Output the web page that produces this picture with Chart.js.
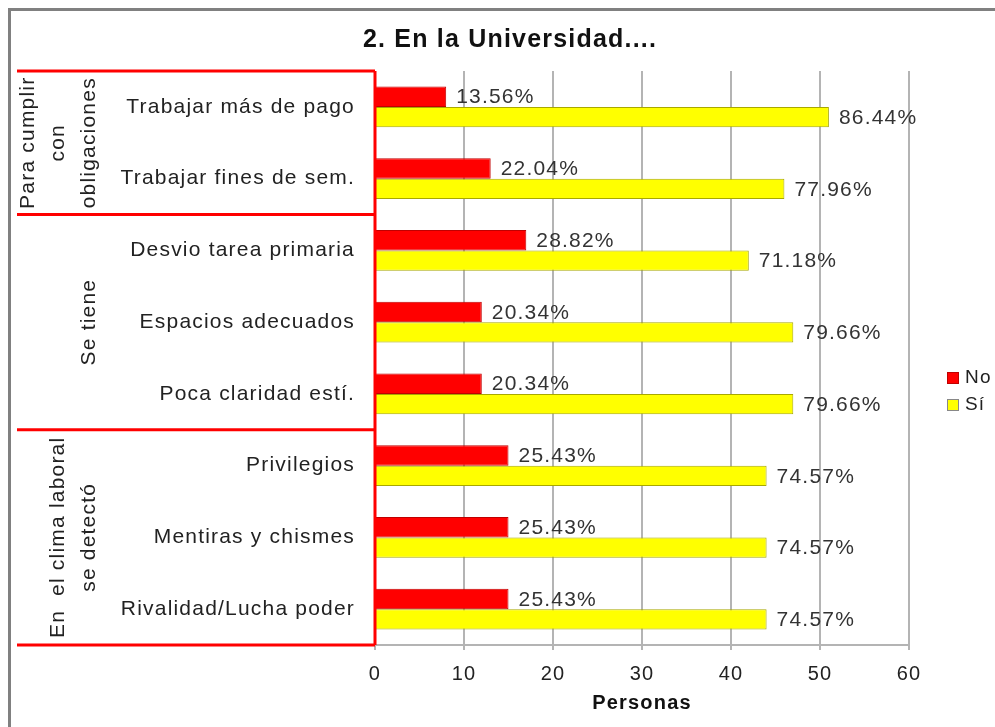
<!DOCTYPE html>
<html>
<head>
<meta charset="utf-8">
<script src="https://cdn.jsdelivr.net/npm/chart.js@4.4.0/dist/chart.umd.min.js"></script>
<style>
  html, body { margin: 0; padding: 0; background: #fff; }
  #wrap { width: 995px; height: 727px; }
</style>
</head>
<body>
<div id="wrap"><canvas id="chart" width="995" height="727"></canvas></div>
<script>
// Chart data
const chartTitle = '2. En la Universidad....';
const categories = ['Trabajar más de pago', 'Trabajar fines de sem.', 'Desvio tarea primaria', 'Espacios adecuados',
    'Poca claridad estí.', 'Privilegios', 'Mentiras y chismes', 'Rivalidad/Lucha poder'];
const noValues = [8, 13, 17, 12, 12, 15, 15, 15];
const siValues = [51, 46, 42, 47, 47, 44, 44, 44];
const noLabels = ['13.56%', '22.04%', '28.82%', '20.34%', '20.34%', '25.43%', '25.43%', '25.43%'];
const siLabels = ['86.44%', '77.96%', '71.18%', '79.66%', '79.66%', '74.57%', '74.57%', '74.57%'];
const groupNames = [['Para cumplir', 'con', 'obligaciones'], ['Se tiene'], ['En  el clima laboral', 'se detectó']];
const groupSizes = [2, 3, 3];
const xMin = 0, xMax = 60, xStep = 10;

const FONT = "'Liberation Sans', Arial, sans-serif";
const TEXT = '#222';
const SPACING = '1.2px';

// Background, outer frame and title
const framePlugin = {
    id: 'frame',
    beforeDraw(chart) {
        const ctx = chart.ctx;
        // slightly wider letter spacing for every text on the canvas
        ctx.letterSpacing = SPACING;
        ctx.save();
        ctx.fillStyle = '#fff';
        ctx.fillRect(0, 0, chart.width, chart.height);
        ctx.strokeStyle = '#808080';
        ctx.lineWidth = 3;
        ctx.beginPath();
        ctx.moveTo(chart.width, 9.5);
        ctx.lineTo(9.5, 9.5);
        ctx.lineTo(9.5, chart.height);
        ctx.stroke();
        ctx.fillStyle = '#111';
        ctx.font = 'bold 25px ' + FONT;
        ctx.textAlign = 'center';
        ctx.textBaseline = 'middle';
        ctx.fillText(chartTitle, 510, 40);
        ctx.restore();
    }
};

// Red group boxes with rotated group names
const groupPlugin = {
    id: 'groups',
    afterDraw(chart) {
        const ctx = chart.ctx;
        const y = chart.scales.y;
        const area = chart.chartArea;
        const half = (y.getPixelForValue(1) - y.getPixelForValue(0)) / 2;
        ctx.save();
        ctx.strokeStyle = '#ff0000';
        ctx.lineWidth = 3;
        ctx.beginPath();
        ctx.moveTo(area.left, area.top);
        ctx.lineTo(area.left, area.bottom);
        ctx.stroke();
        let idx = 0;
        const bounds = [area.top];
        groupSizes.forEach(n => {
            idx += n;
            bounds.push(idx >= categories.length ? area.bottom : y.getPixelForValue(idx - 1) + half);
        });
        bounds.forEach(b => {
            ctx.beginPath();
            ctx.moveTo(17, b);
            ctx.lineTo(area.left, b);
            ctx.stroke();
        });
        ctx.fillStyle = TEXT;
        ctx.font = '21px ' + FONT;
        ctx.textAlign = 'center';
        ctx.textBaseline = 'middle';
        groupNames.forEach((lines, g) => {
            const cy = (bounds[g] + bounds[g + 1]) / 2;
            lines.forEach((line, i) => {
                const cx = 89 - (lines.length - 1 - i) * 30.5;
                ctx.save();
                ctx.translate(cx, cy);
                ctx.rotate(-Math.PI / 2);
                ctx.fillText(line, 0, 0);
                ctx.restore();
            });
        });
        ctx.restore();
    }
};

// Percent labels at the end of each bar
const barLabelPlugin = {
    id: 'barLabels',
    afterDatasetsDraw(chart) {
        const ctx = chart.ctx;
        const texts = [noLabels, siLabels];
        ctx.save();
        ctx.fillStyle = '#333';
        ctx.font = '21px ' + FONT;
        ctx.textAlign = 'left';
        ctx.textBaseline = 'middle';
        chart.data.datasets.forEach((ds, d) => {
            chart.getDatasetMeta(d).data.forEach((bar, i) => {
                ctx.fillText(texts[d][i], bar.x + 10, bar.y + 1);
            });
        });
        ctx.restore();
    }
};

// Legend on the right
const legendPlugin = {
    id: 'sideLegend',
    afterDraw(chart) {
        const ctx = chart.ctx;
        ctx.save();
        ctx.font = '19px ' + FONT;
        ctx.textBaseline = 'middle';
        chart.data.datasets.forEach((ds, d) => {
            const cy = 378 + d * 27;
            ctx.fillStyle = ds.backgroundColor;
            ctx.fillRect(947, cy - 6, 12, 12);
            ctx.strokeStyle = d === 0 ? '#c00000' : '#888';
            ctx.lineWidth = 1;
            ctx.strokeRect(947.5, cy - 5.5, 11, 11);
            ctx.fillStyle = TEXT;
            ctx.fillText(ds.label, 965, cy);
        });
        ctx.restore();
    }
};

const ctx = document.getElementById('chart').getContext('2d');
new Chart(ctx, {
    type: 'bar',
    data: {
        labels: categories,
        datasets: [
            {
                label: 'No',
                data: noValues,
                backgroundColor: '#ff0000',
                borderColor: '#c00000',
                borderWidth: 1
            },
            {
                label: 'Sí',
                data: siValues,
                backgroundColor: '#ffff00',
                borderColor: '#a8a800',
                borderWidth: 1
            }
        ]
    },
    options: {
        indexAxis: 'y',
        responsive: false,
        animation: false,
        devicePixelRatio: 1,
        categoryPercentage: 0.57,
        barPercentage: 1,
        layout: {
            padding: { top: 71, right: 86, bottom: 0, left: 0 }
        },
        plugins: {
            legend: { display: false },
            title: { display: false },
            tooltip: { enabled: false }
        },
        scales: {
            x: {
                min: xMin,
                max: xMax,
                ticks: {
                    stepSize: xStep,
                    color: TEXT,
                    font: { family: FONT, size: 20 },
                    padding: 12
                },
                grid: {
                    color: '#b4b4b4',
                    lineWidth: 2,
                    tickLength: 5
                },
                border: { color: '#b4b4b4', width: 2 },
                title: {
                    display: true,
                    text: 'Personas',
                    color: '#111',
                    font: { family: FONT, size: 20, weight: 'bold' },
                    padding: { top: 0, bottom: 12 }
                },
                afterFit(scale) {
                    scale.height = 82;
                }
            },
            y: {
                ticks: {
                    color: TEXT,
                    font: { family: FONT, size: 21 },
                    padding: 20
                },
                grid: { display: false, drawTicks: false },
                border: { display: false },
                afterFit(scale) {
                    scale.width = 375;
                }
            }
        }
    },
    plugins: [framePlugin, groupPlugin, barLabelPlugin, legendPlugin]
});
</script>
</body>
</html>
